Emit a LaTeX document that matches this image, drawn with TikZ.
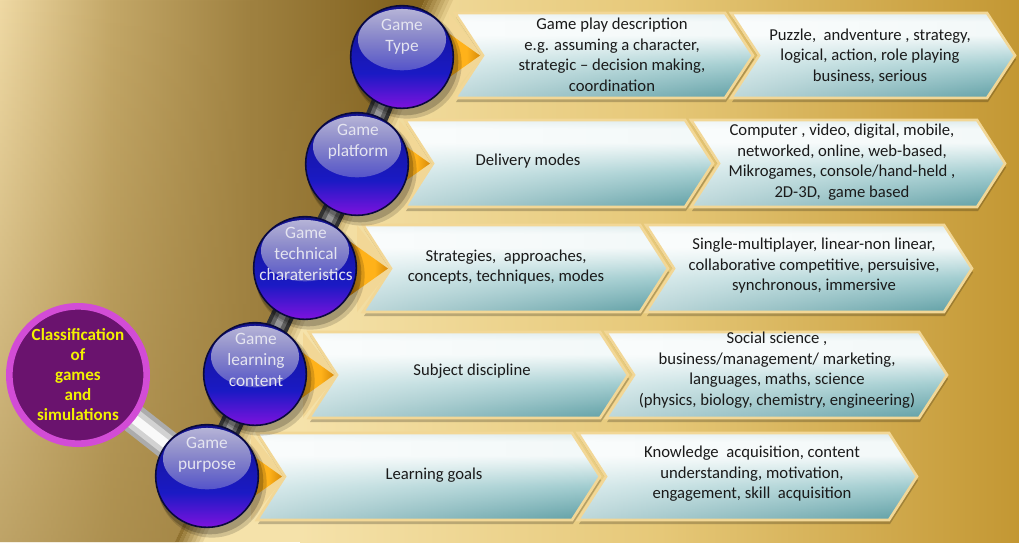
\documentclass[tikz,border=0pt]{standalone}
\usepackage{fontspec}
\setmainfont{Carlito}
\usetikzlibrary{calc,fadings}

\definecolor{bgpale}{HTML}{F5E2AA}
\definecolor{bgmid}{HTML}{E6C878}
\definecolor{bggold}{HTML}{C39733}
\definecolor{brownA}{HTML}{EFD9A4}
\definecolor{brownB}{HTML}{C4A868}
\definecolor{brownC}{HTML}{9E803F}
\definecolor{brownD}{HTML}{82621F}
\definecolor{rim}{HTML}{F2D796}
\definecolor{tealA}{HTML}{5C9DA3}
\definecolor{tealB}{HTML}{A2CDD0}
\definecolor{tealC}{HTML}{F3F9F9}
\definecolor{tealD}{HTML}{DCEAEB}
\definecolor{orangeA}{HTML}{A85F00}
\definecolor{orangeB}{HTML}{FFB21A}
\definecolor{orangeC}{HTML}{D88A08}
\definecolor{ballTop}{HTML}{12128E}
\definecolor{ballMid}{HTML}{1A1AC4}
\definecolor{ballBot}{HTML}{7E12DE}
\definecolor{ballRim}{HTML}{0A0A3C}
\definecolor{glossTop}{HTML}{C4C2DE}
\definecolor{plum}{HTML}{6A136E}
\definecolor{orchid}{HTML}{D24CD6}
\definecolor{lemon}{HTML}{F2F200}
\definecolor{ink}{HTML}{1A1A1A}
\definecolor{balltext}{HTML}{E4E4F0}

\pgfdeclarehorizontalshading{bgshade}{100bp}{color(0bp)=(bgpale); color(25bp)=(bgpale); color(50bp)=(bgmid); color(75bp)=(bggold); color(100bp)=(bggold)}
\pgfdeclarehorizontalshading{brownshade}{100bp}{color(0bp)=(brownA); color(25bp)=(brownA); color(38bp)=(brownB); color(55bp)=(brownC); color(72bp)=(brownD); color(100bp)=(brownD)}
\pgfdeclareverticalshading{chevshade}{100bp}{color(0bp)=(tealA); color(25bp)=(tealA); color(45bp)=(tealB); color(62bp)=(tealC); color(70bp)=(tealC); color(75bp)=(tealD); color(100bp)=(tealD)}
\pgfdeclareverticalshading{ballshade}{100bp}{color(0bp)=(ballBot); color(25bp)=(ballBot); color(42bp)=(ballMid); color(75bp)=(ballTop); color(100bp)=(ballTop)}
\pgfdeclarehorizontalshading{notchshade}{100bp}{color(0bp)=(orangeA); color(25bp)=(orangeA); color(45bp)=(orangeB); color(60bp)=(orangeB); color(75bp)=(orangeC); color(100bp)=(orangeC)}
\tikzfading[name=leftglow, left color=transparent!40, right color=transparent!100]
\tikzfading[name=glossfade, top color=transparent!5, bottom color=transparent!100]
\tikzfading[name=downdark, top color=transparent!100, bottom color=transparent!40]

% chevron: left x, right x, top y, bottom y
\newcommand\chev[4]{%
  \fill[black, opacity=0.22] ({#1+1},{#3+4}) -- ({#2+1},{#3+4}) -- ({#2+29},{(#3+#4)/2+4}) -- ({#2+1},{#4+4}) -- ({#1+1},{#4+4}) -- ({#1+29},{(#3+#4)/2+4}) -- cycle;
  \path[shading=chevshade, shade] (#1,#3) -- (#2,#3) -- ({#2+28},{(#3+#4)/2}) -- (#2,#4) -- (#1,#4) -- ({#1+28},{(#3+#4)/2}) -- cycle;
  \fill[white, path fading=leftglow] (#1,#3) -- (#2,#3) -- ({#2+28},{(#3+#4)/2}) -- (#2,#4) -- (#1,#4) -- ({#1+28},{(#3+#4)/2}) -- cycle;
  \draw[rim, line width=2pt, line join=miter] (#1,#3) -- (#2,#3) -- ({#2+28},{(#3+#4)/2}) -- (#2,#4) -- (#1,#4) -- ({#1+28},{(#3+#4)/2}) -- cycle;
}
% golden pointer sitting in the notch of a chevron: left x, top y, bottom y
\newcommand\pointer[3]{%
  \fill[rim] ({#1-6},{#2}) -- ({#1+28},{(#2+#3)/2}) -- ({#1-6},{#3}) -- cycle;
  \path[shading=notchshade, shade] ({#1-20},{(#2+#3)/2-32}) -- ({#1+25},{(#2+#3)/2}) -- ({#1-20},{(#2+#3)/2+32}) -- cycle;
}

\begin{document}
\begin{tikzpicture}[x=0.75pt, y=-0.75pt,
  desc/.style={align=center, text=ink, inner sep=0pt, font=\fontsize{12.5}{15.4}\selectfont},
  blabel/.style={align=center, text=balltext, inner sep=0pt, font=\fontsize{13}{15.8}\selectfont},
  ball/.style={circle, minimum size=77pt, inner sep=0pt, draw=ballRim, line width=1.2pt,
    shading=ballshade, shade,
    path picture={\fill[glossTop, path fading=glossfade]
      ($(path picture bounding box.center)+(0,13pt)$) ellipse [x radius=33pt, y radius=23pt];}},
  hub/.style={circle, minimum size=103pt, inner sep=0pt, fill=plum, draw=orchid, line width=5pt,
    align=center, text=lemon, font=\bfseries\fontsize{12.8}{15}\selectfont},
  rodouter/.style={line width=#1, line cap=butt},
]
\useasboundingbox (0,0) rectangle (1019,542);

% backdrop: pale gold fading to deep gold, brown band on the left
\fill[bgpale] (0,0) rectangle (1019,542);
\path[shading=bgshade, shade] (300,0) rectangle (1019,542);
\path[shading=brownshade, shade] (0,0) -- (425,0) -- (175,542) -- (0,542) -- cycle;
\fill[brownC, path fading=downdark] (0,0) -- (425,0) -- (175,542) -- (0,542) -- cycle;
\foreach \i in {1,...,7}
  \fill[brownD, opacity={1-\i/8}] ({425+4*(\i-1)},0) -- ({425+4*\i},0) -- ({175+4*\i},542) -- ({175+4*(\i-1)},542) -- cycle;

% rows of chevrons
\foreach \la/\ra/\lb/\rb/\yt/\yb in {455/725/731/987/13/98, 405/685/691/977/120/207, 363/640/646/944/225/312, 309/600/606/919/332/418, 257/572/578/889/433/520}{
  \pointer{\la}{\yt}{\yb}
  \chev{\la}{\ra}{\yt}{\yb}
  \chev{\lb}{\rb}{\yt}{\yb}
}

% chevron texts
\node[desc] (r1a) at (612,55) {Game play description\\e.g. assuming a character,\\strategic – decision making,\\coordination};
\node[desc] (r1b) at (870,56) {Puzzle,\ \ andventure , strategy,\\logical, action, role playing\\business, serious};
\node[desc] (r2a) at (528,161) {Delivery modes};
\node[desc] (r2b) at (842,162) {Computer , video,\ digital, mobile,\\networked, online,\ web-based,\\Mikrogames, console/hand-held ,\\2D-3D,\ \ game based};
\node[desc] (r3a) at (506,267) {Strategies,\ \ approaches,\\concepts, techniques, modes};
\node[desc] (r3b) at (814,266) {Single-multiplayer, linear-non linear,\\collaborative competitive, persuisive,\\synchronous, immersive};
\node[desc] (r4a) at (472,371) {Subject discipline};
\node[desc] (r4b) at (777,370) {Social science ,\\business/management/ marketing,\\languages, maths, science\\(physics, biology, chemistry, engineering)};
\node[desc] (r5a) at (434,475) {Learning goals};
\node[desc] (r5b) at (752,474) {Knowledge\ \ acquisition, content\\understanding, motivation,\\engagement, skill\ \ acquisition};

% sphere and hub centres
\coordinate (c1) at (402,57);
\coordinate (c2) at (357,164);
\coordinate (c3) at (305,268);
\coordinate (c4) at (255,374);
\coordinate (c5) at (207,476);
\coordinate (hc) at (78,375);

% metallic rods
\draw[rodouter=22pt, color=gray!65] (hc) -- (c5);
\draw[rodouter=15pt, color=gray!35] (hc) -- (c5);
\draw[rodouter=7pt, color=white!95!gray] (hc) -- (c5);
\foreach \a/\b in {c1/c2, c2/c3, c3/c4, c4/c5}{
  \draw[rodouter=17pt, color=black!80] (\a) -- (\b);
  \draw[rodouter=11pt, color=black!62] (\a) -- (\b);
  \draw[rodouter=5pt, color=black!42] (\a) -- (\b);
}

% sphere shadows, cast down and to the right
\foreach \c in {c1,c2,c3,c4,c5}{
  \fill[black, opacity=0.15] ($(\c)+(5,7)$) circle (41pt);
  \fill[black, opacity=0.2] ($(\c)+(3,5)$) circle (40pt);
}

% spheres
\node[ball] (b1) at (c1) {};
\node[ball] (b2) at (c2) {};
\node[ball] (b3) at (c3) {};
\node[ball] (b4) at (c4) {};
\node[ball] (b5) at (c5) {};

\node[blabel] (l1) at (402,37) {Game\\Type};
\node[blabel] (l2) at (358,142) {Game\\platform};
\node[blabel] (l3) at (306,254) {Game\\technical\\charateristics};
\node[blabel] (l4) at (256,360) {Game\\learning\\content};
\node[blabel] (l5) at (207,455) {Game\\purpose};

% central hub
\node[hub] (hub) at (hc) {Classification\\of\\games\\and\\simulations};
\end{tikzpicture}
\end{document}
